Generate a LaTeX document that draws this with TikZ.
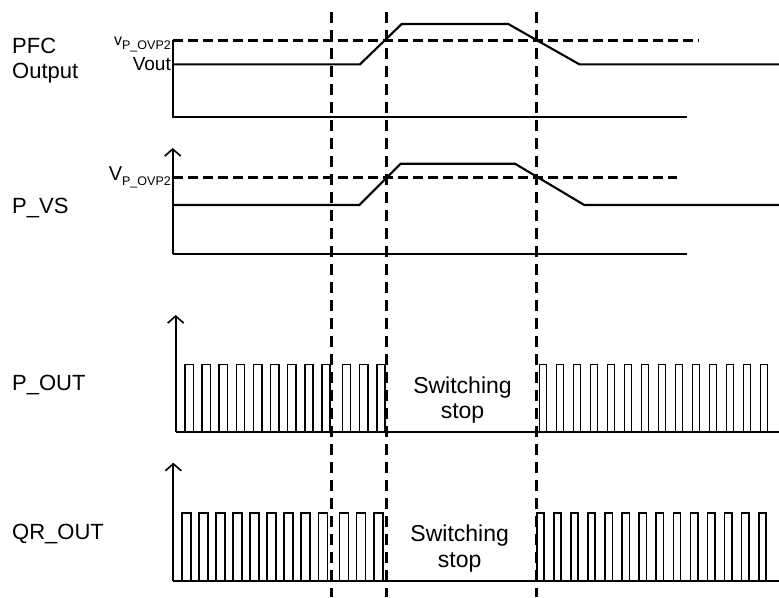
\documentclass[tikz,border=0pt]{standalone}
\usepackage{fontspec}
\setmainfont{Liberation Sans}
\usetikzlibrary{arrows.meta}
\begin{document}
\begin{tikzpicture}[x=1pt,y=-1pt,
  sig/.style={line width=2.1pt, line join=miter},
  axisln/.style={line width=1.9pt},
  pulse/.style={line width=1.6pt},
  vdash/.style={line width=2.5pt, dash pattern=on 11pt off 7pt},
  hdash/.style={line width=2.5pt, dash pattern=on 10pt off 5pt},
  arr/.style={-{Straight Barb[length=7pt,width=16pt,line width=1.6pt]}},
  lbl/.style={font=\fontsize{22}{22}\selectfont, inner sep=0pt, anchor=base west},
  sw/.style={font=\fontsize{23}{23}\selectfont, inner sep=0pt, anchor=base},
  vlbl/.style={inner sep=0pt, anchor=base east}]
\useasboundingbox (0,0) rectangle (779,597);

% vertical dashed time markers
\foreach \xx in {331.7,386.7,536.7}
  \draw[vdash] (\xx,12) -- (\xx,597);

% ---------- PFC Output ----------
\node[lbl] (pfc) at (12,53.3) {PFC};
\node[lbl] (pfcout) at (12,78) {Output};
\draw[axisln] (172.7,39.5) -- (172.7,116.7) -- (686.7,116.7);
\draw[hdash] (173,40.7) -- (699,40.7);
\draw[sig] (173,64.3) -- (360,64.3) -- (401.7,24) -- (508.3,24) -- (579.3,64.3) -- (779,64.3);
\node[vlbl] (vovpa) at (171,45) {{\fontsize{16}{16}\selectfont v}{\fontsize{12.5}{12.5}\selectfont\raisebox{-4pt}{P\_OVP2}}};
\node[vlbl] (vout) at (171,70) {\fontsize{19}{19}\selectfont Vout};

% ---------- P_VS ----------
\node[lbl] (pvs) at (12,213.5) {P\_VS};
\draw[axisln,arr] (172.7,254.3) -- (172.7,148);
\draw[axisln] (172.7,254.3) -- (686.7,254.3);
\draw[hdash] (173,177.7) -- (676.7,177.7);
\draw[sig] (173,205) -- (359.3,205) -- (400.7,163.7) -- (515,163.7) -- (584.3,205) -- (779,205);
\node[vlbl] (vovpb) at (171,180.7) {{\fontsize{20}{20}\selectfont V}{\fontsize{12.5}{12.5}\selectfont\raisebox{-4.3pt}{P\_OVP2}}};

% ---------- P_OUT ----------
\node[lbl] (pout) at (12,390) {P\_OUT};
\draw[axisln,arr] (175.7,431.7) -- (175.7,315);
\draw[axisln] (175.7,431.7) -- (779,431.7);
\foreach \k in {0,...,8}
  \draw[pulse] ({185+17.1*\k},431.7) -- ++(0,-67.4) -- ++(8.3,0) -- ++(0,67.4);
\foreach \k in {0,...,2}
  \draw[pulse] ({342.3+17.3*\k},431.7) -- ++(0,-67.4) -- ++(8.3,0) -- ++(0,67.4);
\foreach \k in {0,...,13}
  \draw[pulse] ({539.3+17*\k},431.7) -- ++(0,-67.4) -- ++(7.3,0) -- ++(0,67.4);
\node[sw] (swa) at (462.5,393.3) {Switching};
\node[sw] (stopa) at (462.5,418.5) {stop};

% ---------- QR_OUT ----------
\node[lbl] (qrout) at (12,539) {QR\_OUT};
\draw[axisln,arr] (173.3,580.7) -- (173.3,462.7);
\draw[axisln] (173.3,580.7) -- (779,580.7);
\foreach \k in {0,...,8}
  \draw[pulse] ({181.7+17.08*\k},580.7) -- ++(0,-68) -- ++(9,0) -- ++(0,68);
\foreach \k in {0,...,2}
  \draw[pulse] ({339.3+17.35*\k},580.7) -- ++(0,-68) -- ++(9,0) -- ++(0,68);
\foreach \k in {0,...,13}
  \draw[pulse] ({536.7+17.08*\k},580.7) -- ++(0,-68) -- ++(7.3,0) -- ++(0,68);
\node[sw] (swb) at (459.7,541.7) {Switching};
\node[sw] (stopb) at (459.7,567.5) {stop};
\end{tikzpicture}
\end{document}
